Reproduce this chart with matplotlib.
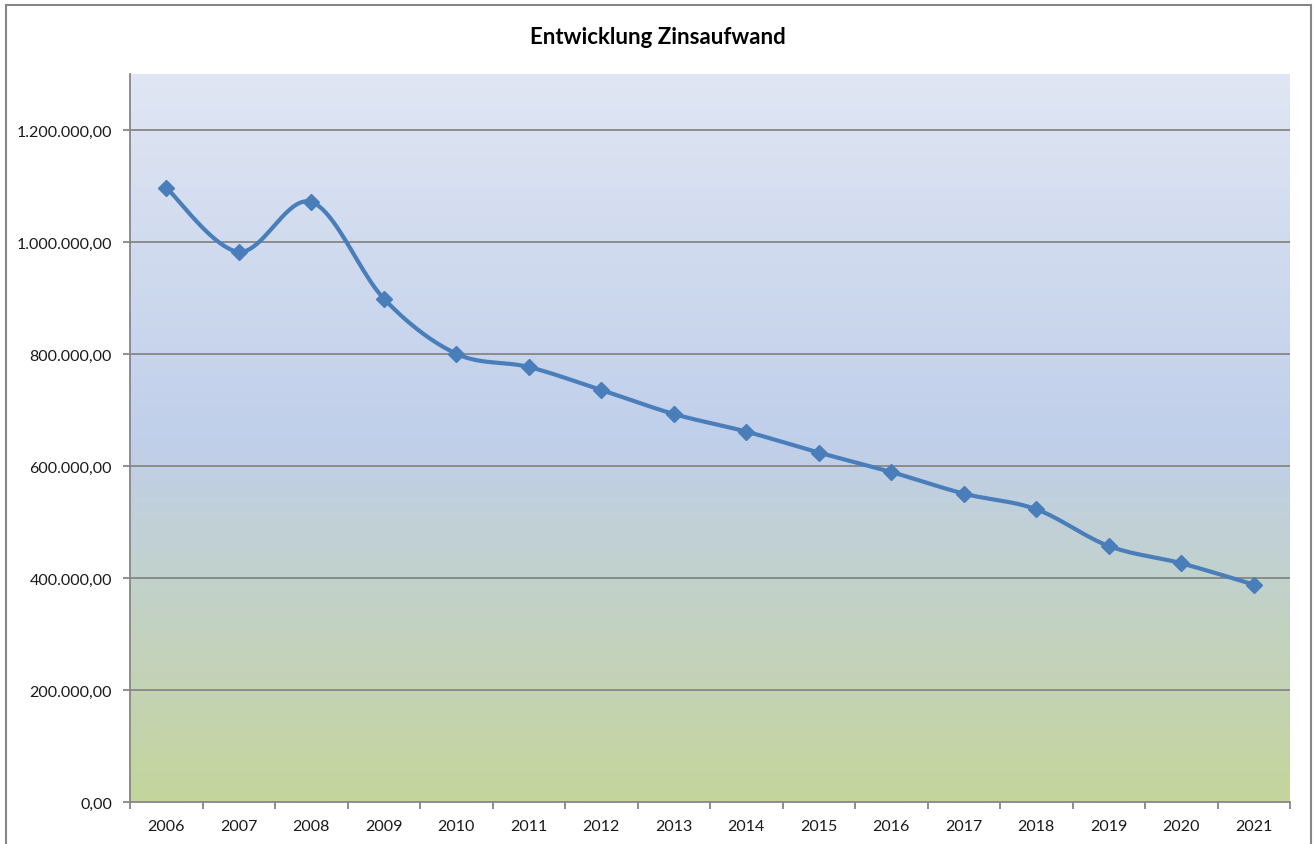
import numpy as np
import matplotlib
matplotlib.use("Agg")
import matplotlib.pyplot as plt
from matplotlib.colors import LinearSegmentedColormap
from matplotlib.patches import Rectangle
from matplotlib.ticker import FuncFormatter, FixedLocator

years = ["2006", "2007", "2008", "2009", "2010", "2011", "2012", "2013",
         "2014", "2015", "2016", "2017", "2018", "2019", "2020", "2021"]
zinsaufwand = [1097000, 982500, 1071500, 899000, 800500, 776800, 735700, 692900,
               661400, 624000, 589300, 550700, 522700, 457100, 426300, 388200]
title = "Entwicklung Zinsaufwand"
y_ticks = [0, 200000, 400000, 600000, 800000, 1000000, 1200000]

plt.rcParams['font.family'] = ['Lato', 'DejaVu Sans']

W, H = 1315, 845
fig = plt.figure(figsize=(W / 100, H / 100), dpi=100)
fig.patch.set_facecolor('white')

# chart border
fig.patches.append(Rectangle((6 / W, -0.05), (1311 - 6) / W, (H - 6) / H + 0.05,
                             transform=fig.transFigure, fill=False,
                             edgecolor='#868686', linewidth=1.5, zorder=0))

ax = fig.add_axes([130 / W, (H - 803) / H, (1290 - 130) / W, (803 - 75) / H])

x = np.arange(len(years))
ax.set_xlim(-0.5, len(years) - 0.5)
ax.set_ylim(0, 1300000)

# gradient background
cmap = LinearSegmentedColormap.from_list(
    'bg', [(0.0, '#c5d59c'), (0.5, '#c0cfea'), (1.0, '#e0e6f3')])
grad = np.linspace(0, 1, 256).reshape(-1, 1)
ax.imshow(grad, extent=(-0.5, len(years) - 0.5, 0, 1300000), origin='lower',
          aspect='auto', cmap=cmap, zorder=0)

# gridlines
for t in y_ticks[1:]:
    ax.axhline(t, color='#868686', linewidth=1.3, zorder=1)

# smooth curve (Catmull-Rom as Bezier, like Excel's smoothed line)
def smooth(xs, ys, n=40):
    xs = np.asarray(xs, float)
    ys = np.asarray(ys, float)
    P = np.column_stack([xs, ys])
    out = []
    for i in range(len(P) - 1):
        p0 = P[i - 1] if i > 0 else P[i]
        p1 = P[i]
        p2 = P[i + 1]
        p3 = P[i + 2] if i + 2 < len(P) else P[i + 1]
        c1 = p1 + (p2 - p0) / 6.0
        c2 = p2 - (p3 - p1) / 6.0
        t = np.linspace(0, 1, n)[:, None]
        seg = ((1 - t) ** 3) * p1 + 3 * ((1 - t) ** 2) * t * c1 + 3 * (1 - t) * t ** 2 * c2 + t ** 3 * p2
        out.append(seg if i == 0 else seg[1:])
    S = np.vstack(out)
    return S[:, 0], S[:, 1]

sx, sy = smooth(x, zinsaufwand)
ax.plot(sx, sy, color='#4a7ebb', linewidth=3.0, zorder=3, solid_capstyle='round')
ax.plot(x, zinsaufwand, linestyle='none', marker='D', markersize=8,
        color='#4a7ebb', zorder=4)

# axes styling
for s in ['top', 'right']:
    ax.spines[s].set_visible(False)
for s in ['left', 'bottom']:
    ax.spines[s].set_color('#868686')
    ax.spines[s].set_linewidth(1.3)

ax.yaxis.set_major_locator(FixedLocator(y_ticks))
def de_fmt(v, pos):
    s = f"{v:,.2f}"
    return s.replace(",", "X").replace(".", ",").replace("X", ".")
ax.yaxis.set_major_formatter(FuncFormatter(de_fmt))
ax.tick_params(axis='y', length=5, width=1.3, color='#868686', pad=8,
               labelsize=11.5, labelcolor='#1a1a1a')

ax.set_xticks(x)
ax.set_xticklabels(years)
ax.tick_params(axis='x', which='major', length=0, pad=12, labelsize=11.5,
               labelcolor='#1a1a1a')
ax.set_xticks(np.arange(-0.5, len(years)), minor=True)
ax.tick_params(axis='x', which='minor', length=5, width=1.3, color='#868686')

fig.text(658 / W, 1 - 37 / H, title, ha='center', va='center',
         fontsize=16, fontweight='bold', color='black')

fig.savefig('out.png', dpi=100)
